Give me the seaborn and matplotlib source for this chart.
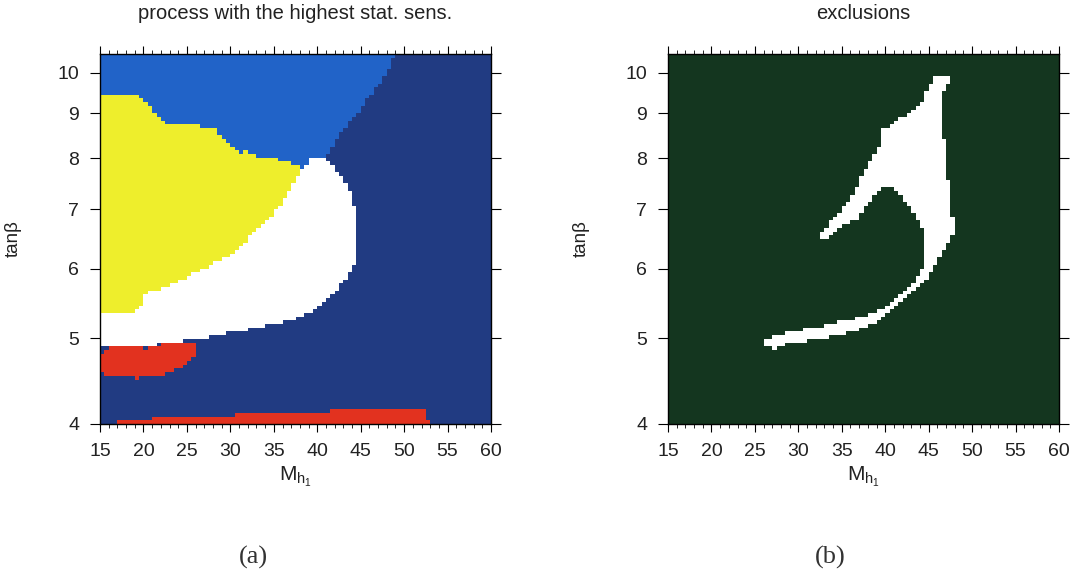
import numpy as np
import matplotlib
matplotlib.use("Agg")
import matplotlib.pyplot as plt
from matplotlib.colors import ListedColormap
from matplotlib.path import Path
from matplotlib.ticker import MultipleLocator, NullLocator
import seaborn as sns

# axis settings
X_RANGE = (15, 60)
T_RANGE = (4, 10.5)
x_ticks = [15, 20, 25, 30, 35, 40, 45, 50, 55, 60]
y_ticks = [4, 5, 6, 7, 8, 9, 10]

# panel (a): regions as (M_h1, tan beta) outlines, painted in this order
light_blue_region = [(15, 10.5), (48.95, 10.5), (48.0, 10.0), (44.7, 9.0), (42.6, 8.54),
                     (40.9, 7.98), (38.2, 7.70), (15, 7.70)]
white_region = [(15, 4.89), (20.75, 4.91), (23.4, 4.95), (26.5, 5.00), (28.4, 5.04),
                (31.1, 5.10), (34.2, 5.17), (36.1, 5.22), (38.0, 5.29), (39.55, 5.38),
                (41.1, 5.52), (42.2, 5.67), (43.4, 5.87), (44.15, 6.03), (44.7, 6.18),
                (44.7, 6.57), (44.3, 7.05), (43.8, 7.30), (43.0, 7.56), (41.85, 7.83),
                (40.9, 7.98), (39.2, 7.98), (38.2, 7.79), (15, 7.79)]
yellow_region = [(15, 9.48), (19.22, 9.48), (19.8, 9.32), (20.56, 9.20), (21.5, 8.96),
                 (22.9, 8.75), (26.5, 8.71), (28.4, 8.62), (29.0, 8.43), (30.2, 8.28),
                 (31.1, 8.10), (31.9, 8.14), (32.6, 8.07), (36.1, 7.96), (37.4, 7.86),
                 (38.2, 7.79), (37.4, 7.56), (36.5, 7.30), (35.7, 7.05), (34.2, 6.81),
                 (32.6, 6.57), (31.1, 6.35), (29.6, 6.18), (27.3, 6.03), (25.0, 5.87),
                 (22.7, 5.74), (21.5, 5.67), (20.0, 5.62), (19.7, 5.43), (18.8, 5.36),
                 (15, 5.36)]
red_blob = [(15, 4.80), (15.77, 4.87), (18.07, 4.91), (19.6, 4.89), (20.4, 4.85),
            (21.1, 4.91), (23.4, 4.95), (25.7, 4.93), (26.3, 4.87), (26.1, 4.78),
            (25.0, 4.68), (23.4, 4.60), (21.9, 4.54), (19.6, 4.52), (19.2, 4.48),
            (18.8, 4.52), (15.77, 4.54), (15, 4.58)]
red_band = [(16.9, 4.0), (16.9, 4.02), (21.1, 4.02), (21.1, 4.07), (30.7, 4.07),
            (30.7, 4.11), (41.6, 4.11), (41.6, 4.17), (52.2, 4.17), (53.0, 4.0)]

# panel (b): excluded region outline
excluded_region = [(25.9, 4.97), (26.3, 4.91), (27.1, 4.85), (27.9, 4.91), (30.2, 4.95),
                   (32.5, 5.00), (34.8, 5.05), (37.1, 5.12), (38.6, 5.20), (39.4, 5.26),
                   (40.9, 5.43), (42.4, 5.55), (44.0, 5.72), (45.5, 5.97), (46.6, 6.24),
                   (47.6, 6.52), (48.2, 6.72), (47.8, 6.81), (47.4, 7.30), (47.0, 7.96),
                   (46.6, 8.69), (46.5, 9.48), (47.0, 9.65), (47.8, 9.90), (47.8, 9.95),
                   (45.9, 9.95), (44.7, 9.48), (44.35, 9.24), (43.2, 9.08), (42.0, 8.92),
                   (40.9, 8.77), (39.7, 8.62), (39.4, 8.32), (38.6, 8.03), (37.8, 7.83),
                   (37.1, 7.56), (36.3, 7.30), (35.5, 7.11), (34.8, 6.93), (33.6, 6.75),
                   (32.65, 6.58), (32.5, 6.49), (33.2, 6.49), (34.8, 6.69), (36.7, 6.81),
                   (37.8, 7.05), (38.6, 7.24), (39.4, 7.36), (40.1, 7.43), (41.3, 7.36),
                   (42.4, 7.11), (43.6, 6.87), (44.5, 6.63), (44.7, 6.46), (44.5, 6.13),
                   (44.15, 5.92), (43.2, 5.77), (42.0, 5.62), (40.5, 5.47), (39.0, 5.36),
                   (37.1, 5.28), (34.8, 5.22), (32.5, 5.15), (30.2, 5.11), (27.9, 5.05)]

colors_a = ["#213b82", "#2163c8", "#ffffff", "#eeee2c", "#e2321f"]
colors_b = ["#14361f", "#ffffff"]


def rasterize(layers, nx=90, nt=100):
    # fill a grid cell by cell, later layers paint over earlier ones
    x_edges = np.linspace(X_RANGE[0], X_RANGE[1], nx + 1)
    t_edges = np.geomspace(T_RANGE[0], T_RANGE[1], nt + 1)
    xc = 0.5 * (x_edges[1:] + x_edges[:-1])
    tc = np.sqrt(t_edges[1:] * t_edges[:-1])
    xx, tt = np.meshgrid(xc, tc)
    pts = np.column_stack([xx.ravel(), np.log(tt.ravel())])
    grid = np.zeros(xx.shape)
    for code, poly in layers:
        verts = [(x, np.log(t)) for x, t in poly]
        inside = Path(verts).contains_points(pts).reshape(xx.shape)
        grid[inside] = code
    return x_edges, t_edges, grid


def style_axes(ax, title):
    ax.set_yscale("log")
    ax.set_xlim(*X_RANGE)
    ax.set_ylim(*T_RANGE)
    ax.set_xticks(x_ticks)
    ax.set_xticklabels([str(v) for v in x_ticks])
    ax.xaxis.set_minor_locator(MultipleLocator(1))
    ax.set_yticks(y_ticks)
    ax.set_yticklabels([str(v) for v in y_ticks])
    ax.yaxis.set_minor_locator(NullLocator())
    ax.tick_params(which="both", direction="out", top=True, right=True,
                   labelsize=14, color="black", labelcolor="#222222")
    ax.tick_params(axis="x", which="major", length=6, pad=8)
    ax.tick_params(axis="x", which="minor", length=3)
    ax.tick_params(axis="y", which="major", length=7, pad=8)
    for s in ax.spines.values():
        s.set_visible(True)
        s.set_color("black")
        s.set_linewidth(1.0)
    ax.set_xlabel(r"M$_{\mathregular{h}_{\mathregular{1}}}$", fontsize=15, color="#222222")
    ax.xaxis.set_label_coords(0.5, -0.11)
    ax.set_ylabel("tanβ", fontsize=13.5, color="#222222")
    ax.yaxis.set_label_coords(-0.2, 0.5)
    ax.set_title(title, fontsize=14.5, color="#222222", pad=25)


sns.set_style("ticks")
plt.rcParams["font.family"] = ["Liberation Sans", "DejaVu Sans"]

fig = plt.figure(figsize=(10.79, 5.77), dpi=100)
ax_a = fig.add_axes([0.0927, 0.2652, 0.3624, 0.6412])
ax_b = fig.add_axes([0.6191, 0.2652, 0.3624, 0.6412])

xe, te, grid_a = rasterize([(1, light_blue_region), (2, white_region), (3, yellow_region),
                            (4, red_blob), (4, red_band)])
ax_a.pcolormesh(xe, te, grid_a, cmap=ListedColormap(colors_a),
                vmin=-0.5, vmax=len(colors_a) - 0.5, shading="flat")
style_axes(ax_a, "process with the highest stat. sens.")

xe, te, grid_b = rasterize([(1, excluded_region)])
ax_b.pcolormesh(xe, te, grid_b, cmap=ListedColormap(colors_b),
                vmin=-0.5, vmax=len(colors_b) - 0.5, shading="flat")
style_axes(ax_b, "exclusions")

fig.text(253 / 1079, 1 - 557 / 577, "(a)", ha="center", va="center",
         family="Liberation Serif", fontsize=19, color="#333333")
fig.text(830 / 1079, 1 - 557 / 577, "(b)", ha="center", va="center",
         family="Liberation Serif", fontsize=19, color="#333333")

fig.savefig("out.png", dpi=100)
